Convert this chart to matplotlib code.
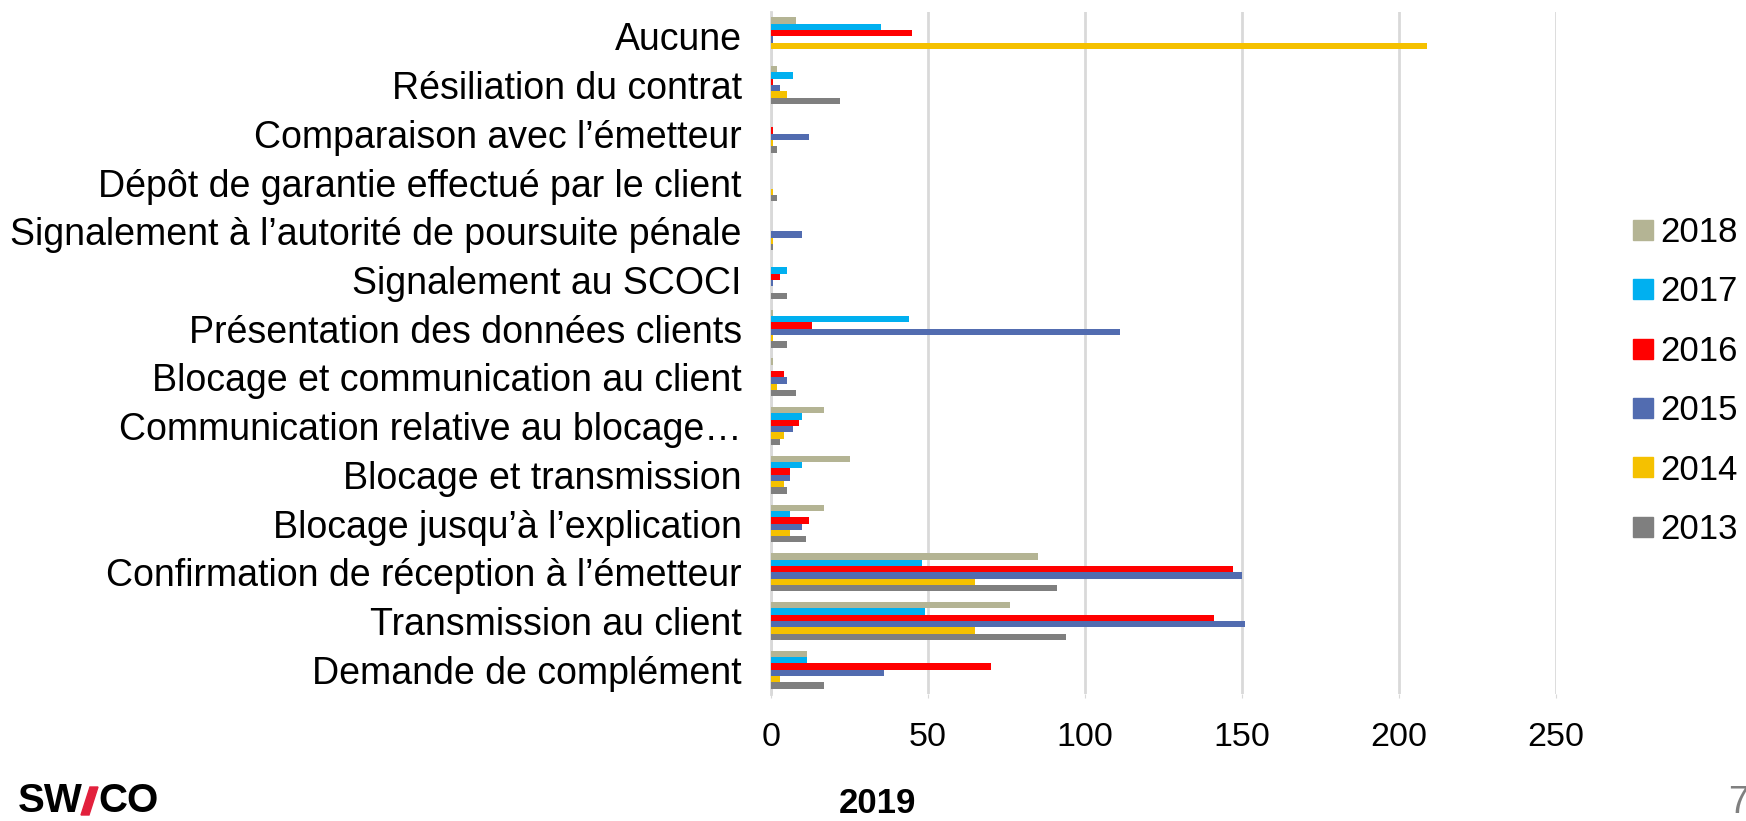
import numpy as np
import matplotlib.pyplot as plt
from matplotlib.lines import Line2D
from matplotlib.patches import Polygon

plt.rcParams['font.family'] = ['Liberation Sans', 'DejaVu Sans']

# categories, top to bottom as in the chart
categories = ["Aucune", "Résiliation du contrat", "Comparaison avec l’émetteur",
              "Dépôt de garantie effectué par le client",
              "Signalement à l’autorité de poursuite pénale", "Signalement au SCOCI",
              "Présentation des données clients", "Blocage et communication au client",
              "Communication relative au blocage…", "Blocage et transmission",
              "Blocage jusqu’à l’explication", "Confirmation de réception à l’émetteur",
              "Transmission au client", "Demande de complément"]

years = ["2018", "2017", "2016", "2015", "2014", "2013"]
v2018 = [8, 2, 0, 0, 0, 0, 0.5, 0.5, 17, 25, 17, 85, 76, 11.5]
v2017 = [35, 7, 0, 0, 0, 5, 44, 0, 10, 10, 6, 48, 49, 11.5]
v2016 = [45, 0.5, 0.5, 0, 0, 3, 13, 4, 9, 6, 12, 147, 141, 70]
v2015 = [0.5, 3, 12, 0, 10, 0.5, 111, 5, 7, 6, 10, 150, 151, 36]
v2014 = [209, 5, 0.5, 0.5, 0.5, 0, 0.5, 2, 4, 4, 6, 65, 65, 3]
v2013 = [0, 22, 2, 2, 0.5, 5, 5, 8, 3, 5, 11, 91, 94, 17]
series = [v2018, v2017, v2016, v2015, v2014, v2013]
colors = ["#B4B494", "#00B0F0", "#FF0000", "#526CB0", "#F5C100", "#7F7F7F"]

fig = plt.figure(figsize=(17.46, 8.21), dpi=100)
ax = fig.add_axes([771 / 1746, 1 - 694 / 821, 785 / 1746, 682 / 821])

y = np.arange(len(categories))
h = 0.13
for k, (vals, c) in enumerate(zip(series, colors)):
    ax.barh(y - 2.5 * h + k * h, vals, height=h, color=c, zorder=3)

ax.set_xlim(0, 250)
ax.set_ylim(len(categories) - 0.5, -0.5)
ax.set_xticks([0, 50, 100, 150, 200, 250])
ax.set_yticks(y)
ax.set_yticklabels(categories, fontsize=27)
ax.tick_params(axis='y', length=0, pad=21)
ax.tick_params(axis='x', labelsize=24.5, length=3, color='#D9D9D9', pad=17)
ax.grid(axis='x', color='#D9D9D9', linewidth=2, zorder=0)
for s in ['top', 'right', 'bottom']:
    ax.spines[s].set_visible(False)
ax.spines['left'].set_color('#D9D9D9')
ax.spines['left'].set_linewidth(2)

handles = [Line2D([], [], marker='s', linestyle='none', markersize=14, color=c) for c in colors]
fig.legend(handles, years, loc='center left', bbox_to_anchor=(1612 / 1746, 1 - 381 / 821),
           frameon=False, fontsize=25, handletextpad=0.1, labelspacing=0.76,
           handlelength=0.8, borderpad=0)

fig.text(877 / 1746, 1 - 803 / 821, "2019", fontsize=25, fontweight='bold', ha='center', va='center')

# logo
fig.text(18 / 1746, 1 - 801 / 821, "SW", fontsize=29, fontweight='bold', ha='left', va='center')
fig.patches.append(Polygon([[81 / 1746, 1 - 815 / 821], [89 / 1746, 1 - 815 / 821],
                            [98 / 1746, 1 - 787 / 821], [90 / 1746, 1 - 787 / 821]],
                           closed=True, transform=fig.transFigure, color='#E2203C'))
fig.text(98 / 1746, 1 - 801 / 821, "CO", fontsize=29, fontweight='bold', ha='left', va='center')
fig.text(1728 / 1746, 1 - 803 / 821, "7", fontsize=27, color='#808080', ha='left', va='center')

fig.savefig("out.png", dpi=100)
